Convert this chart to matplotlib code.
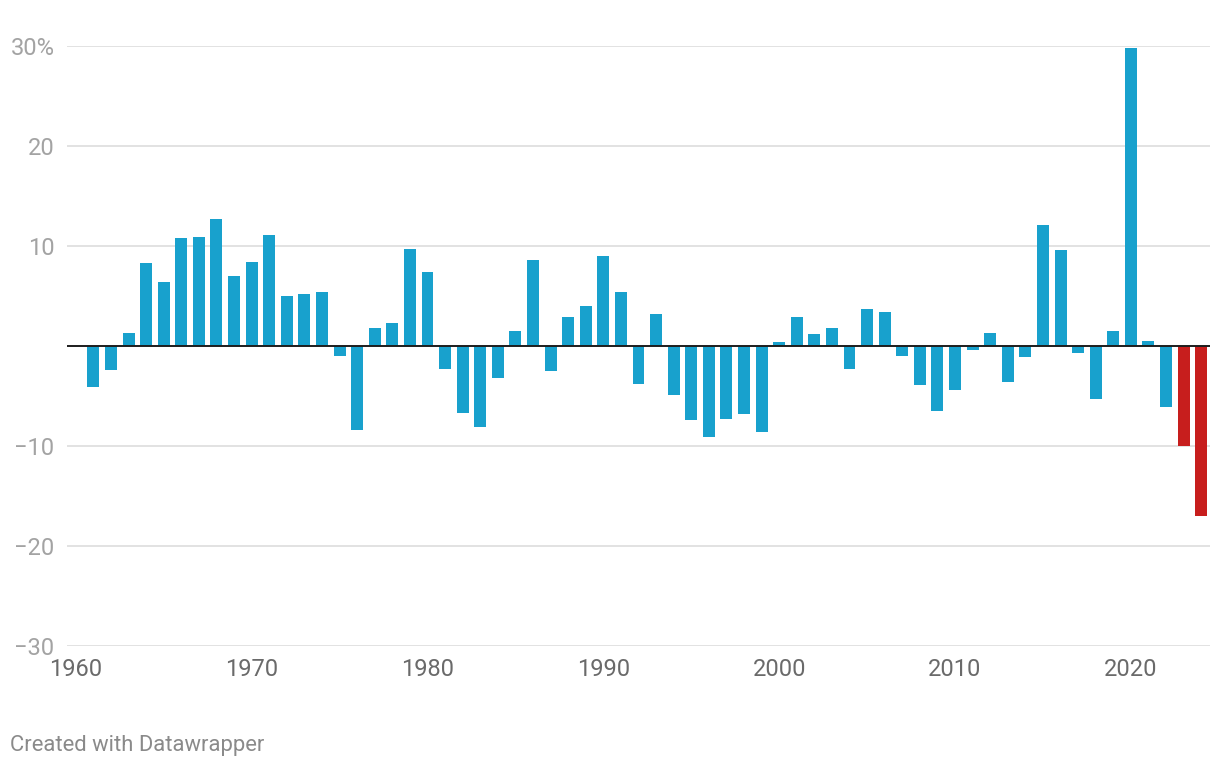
import matplotlib
matplotlib.use("Agg")
import matplotlib.pyplot as plt

plt.rcParams['font.family'] = ['Roboto', 'DejaVu Sans']

years = list(range(1961, 2025))
values = [
    -4.1, -2.4, 1.3, 8.3, 6.4, 10.8, 10.9, 12.7, 7.0, 8.4,   # 1961-1970
    11.1, 5.0, 5.2, 5.4, -1.0, -8.4, 1.8, 2.3, 9.7, 7.4,      # 1971-1980
    -2.3, -6.7, -8.1, -3.2, 1.5, 8.6, -2.5, 2.9, 4.0, 9.0,    # 1981-1990
    5.4, -3.8, 3.2, -4.9, -7.4, -9.1, -7.3, -6.8, -8.6, 0.4,  # 1991-2000
    2.9, 1.2, 1.8, -2.3, 3.7, 3.4, -1.0, -3.9, -6.5, -4.4,    # 2001-2010
    -0.4, 1.3, -3.6, -1.1, 12.1, 9.6, -0.7, -5.3, 1.5, 29.8,  # 2011-2020
    0.5, -6.1, -10.0, -17.0,                                  # 2021-2024
]
highlight_years = [2023, 2024]

y_ticks = [-30, -20, -10, 0, 10, 20, 30]
y_tick_labels = ["\u221230", "\u221220", "\u221210", "", "10", "20", "30%"]
x_ticks = [1960, 1970, 1980, 1990, 2000, 2010, 2020]
x_tick_labels = ["1960", "1970", "1980", "1990", "2000", "2010", "2020"]

BLUE = "#18a1cd"
RED = "#c71e1d"

W, H = 1220, 770
fig = plt.figure(figsize=(W / 100, H / 100), dpi=100)
left, right, top, bottom = 67, 1210, 46, 646
ax = fig.add_axes([left / W, (H - bottom) / H, (right - left) / W, (bottom - top) / H])

colors = [RED if y in highlight_years else BLUE for y in years]
ax.bar(years, values, width=0.68, color=colors, zorder=3)

ax.set_xlim(1959.5, 2024.5)
ax.set_ylim(-30, 30)

for t in y_ticks:
    if t == 0:
        continue
    ax.axhline(t, color="#e2e2e2", lw=1.4, zorder=1)
ax.axhline(0, color="#1d1d1d", lw=1.4, zorder=4)

for s in ax.spines.values():
    s.set_visible(False)

ax.set_yticks(y_ticks)
ax.set_yticklabels(y_tick_labels)
ax.set_xticks(x_ticks)
ax.set_xticklabels(x_tick_labels)
ax.tick_params(axis="y", length=0, pad=9, labelsize=17, labelcolor="#a3a3a3")
ax.tick_params(axis="x", length=0, pad=9, labelsize=17, labelcolor="#6a6a6a")

fig.text(10 / W, 1 - 745 / H, "Created with Datawrapper", fontsize=15.8,
         color="#8a8a8a", ha="left", va="center")

fig.savefig("out.png", dpi=100, facecolor="white")
